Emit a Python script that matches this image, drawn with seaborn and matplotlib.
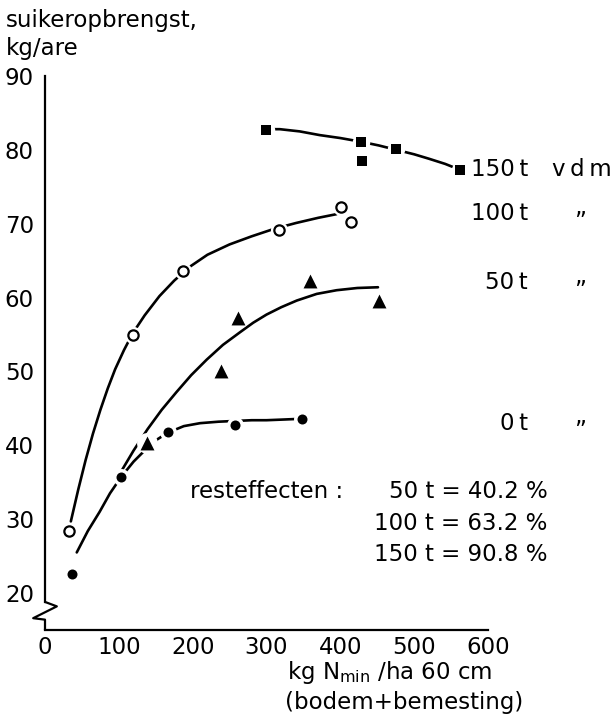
import matplotlib

matplotlib.use("Agg")
import matplotlib.pyplot as plt  # noqa: E402
import seaborn as sns  # noqa: E402

# meetpunten: suikeropbrengst (kg/are) tegen kg N-min/ha 0-60 cm, per gift vdm
N_150 = [299, 428, 429, 476, 562]
S_150 = [82.7, 81.1, 78.5, 80.1, 77.3]

N_100 = [32, 119, 187, 317, 401, 414]
S_100 = [28.4, 54.9, 63.6, 69.1, 72.3, 70.3]

N_50 = [138, 238, 261, 359, 452]
S_50 = [40.3, 50.1, 57.2, 62.2, 59.5]

N_0 = [36, 103, 166, 257, 348]
S_0 = [22.6, 35.7, 41.8, 42.8, 43.6]

# getekende (handmatig gefitte) lijnen
LIJN_150_X = [299, 318, 345, 372, 400, 428, 452, 476, 500, 520, 542, 562]
LIJN_150_Y = [82.8, 82.8, 82.5, 82.0, 81.6, 81.1, 80.6, 80.0, 79.4, 78.8, 78.1, 77.3]

LIJN_100_X = [35, 45, 55, 65, 75, 85, 95, 107, 119, 135, 155, 175, 195, 220,
              250, 280, 310, 340, 370, 395]
LIJN_100_Y = [29.7, 34.0, 38.0, 41.6, 44.8, 47.7, 50.3, 52.9, 55.2, 57.6, 60.2,
              62.3, 64.1, 65.8, 67.2, 68.3, 69.3, 70.1, 70.8, 71.3]

LIJN_50_X = [101, 120, 139, 158, 178, 198, 219, 241, 264, 282, 300, 320, 341,
             368, 395, 423, 451]
LIJN_50_Y = [36.1, 39.3, 42.2, 44.8, 47.2, 49.5, 51.6, 53.6, 55.3, 56.6, 57.7,
             58.7, 59.6, 60.5, 61.0, 61.3, 61.4]

LIJN_0_X = [43, 58, 74, 88, 103, 120, 138, 152, 166, 188, 210, 235, 257, 280,
            300, 325, 348]
LIJN_0_Y = [25.5, 28.4, 31.0, 33.5, 35.7, 37.8, 39.6, 40.8, 41.7, 42.6, 43.0,
            43.2, 43.3, 43.4, 43.4, 43.5, 43.6]

X_TICKS = [0, 100, 200, 300, 400, 500, 600]
Y_TICKS = [20, 30, 40, 50, 60, 70, 80, 90]

REEKS_LABELS = ["150\u2009t", "100\u2009t", "50\u2009t", "0\u2009t"]
REST_LABELS = ["50 t = 40.2 %", "100 t = 63.2 %", "150 t = 90.8 %"]

FS = 16.5

sns.set_style("white")
plt.rcParams["font.family"] = ["DejaVu Sans"]
plt.rcParams["mathtext.default"] = "regular"
plt.rcParams["text.color"] = "black"
plt.rcParams["xtick.color"] = "black"
plt.rcParams["ytick.color"] = "black"

fig = plt.figure(figsize=(6.11, 7.25), dpi=100)
ax = fig.add_axes([45 / 611, 95 / 725, 443 / 611, 554 / 725])


def teken_reeks(ax, lijn_x, lijn_y, px, py, marker, size, open_marker=False):
    """Lijn, witte rand rond de punten (onderbreking) en de punten zelf."""
    sns.lineplot(x=lijn_x, y=lijn_y, sort=False, estimator=None, color="black",
                 linewidth=1.9, ax=ax, zorder=2)
    sns.scatterplot(x=px, y=py, marker="o", s=(size + 5) ** 2, color="white",
                    linewidth=0, ax=ax, zorder=3)
    if open_marker:
        sns.scatterplot(x=px, y=py, marker=marker, s=size ** 2, color="white",
                        edgecolor="black", linewidth=1.6, ax=ax, zorder=4)
    else:
        sns.scatterplot(x=px, y=py, marker=marker, s=size ** 2, color="black",
                        edgecolor="black", linewidth=0, ax=ax, zorder=4)


teken_reeks(ax, LIJN_150_X, LIJN_150_Y, N_150, S_150, "s", 7.6)
teken_reeks(ax, LIJN_100_X, LIJN_100_Y, N_100, S_100, "o", 7.4, open_marker=True)
teken_reeks(ax, LIJN_50_X, LIJN_50_Y, N_50, S_50, "^", 10)
teken_reeks(ax, LIJN_0_X, LIJN_0_Y, N_0, S_0, "o", 7.2)

ax.set_xlim(0, 600)
ax.set_ylim(15, 90)
ax.set_xticks(X_TICKS)
ax.set_yticks(Y_TICKS)
ax.set_xlabel("")
ax.set_ylabel("")

for kant in ["top", "right"]:
    ax.spines[kant].set_visible(False)
for kant in ["left", "bottom"]:
    ax.spines[kant].set_linewidth(1.6)
    ax.spines[kant].set_color("black")
ax.spines["left"].set_bounds(18.8, 90)

# onderbroken y-as
ax.plot([0, 16, -16, 0, 0], [18.8, 18.2, 16.6, 16.4, 15], color="black",
        linewidth=1.6, clip_on=False, zorder=5)

ax.tick_params(axis="x", direction="in", length=8.5, width=1.4, pad=4.5,
               labelsize=FS)
ax.tick_params(axis="y", direction="in", length=5, width=1.4, pad=8,
               labelsize=FS)

# labels rechts van de lijnen
label_y = [76.4, 70.5, 61.15, 42.1]
for tekst, yy in zip(REEKS_LABELS, label_y):
    ax.text(654, yy, tekst, ha="right", va="baseline", fontsize=FS)
ax.text(687, 76.4, "v\u2009d\u2009m", ha="left", va="baseline", fontsize=FS)
for yy in [69.4, 60.1, 41.1]:
    ax.text(724, yy, "\u201d", ha="center", va="baseline", fontsize=FS)

# resteffecten
ax.text(196, 32.9, "resteffecten :", ha="left", va="baseline", fontsize=FS)
for tekst, yy in zip(REST_LABELS, [32.9, 28.6, 24.3]):
    ax.text(681, yy, tekst, ha="right", va="baseline", fontsize=FS)

# astitels
fig.text(6 / 611, 1 - 27 / 725, "suikeropbrengst,", va="baseline", fontsize=FS)
fig.text(6 / 611, 1 - 55 / 725, "kg/are", va="baseline", fontsize=FS)
fig.text(287 / 611, 1 - 679 / 725, r"kg N$_{min}$ /ha 60 cm", va="baseline", fontsize=FS)
fig.text(285 / 611, 1 - 709 / 725, "(bodem+bemesting)", va="baseline", fontsize=FS)

fig.savefig("out.png", dpi=100)
plt.close(fig)
